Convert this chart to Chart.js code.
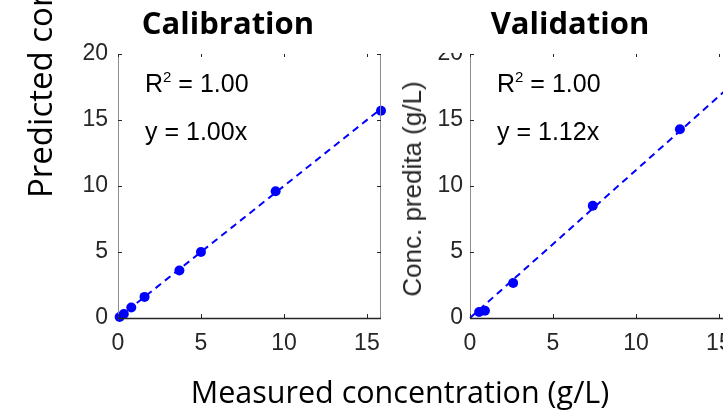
<!DOCTYPE html>
<html>
<head>
<meta charset="utf-8">
<script src="https://cdn.jsdelivr.net/npm/chart.js@4.4.0/dist/chart.umd.min.js"></script>
<style>
    html, body { margin: 0; padding: 0; background: #fff; overflow: hidden; }
    #figura { position: relative; width: 723px; height: 415px; overflow: hidden; background: #fff; }
    canvas { position: absolute; left: 0; top: 0; }
    .txt { position: absolute; white-space: nowrap; line-height: 1; color: #000; }
    .titulo { font-family: 'Open Sans', sans-serif; font-weight: bold; font-size: 31px; transform: translateX(-50%); }
    .rotulo { font-family: 'Open Sans', sans-serif; font-size: 30.5px; }
    .anot { font-family: 'Liberation Sans', Arial, sans-serif; font-size: 25px; }
    .anot span { font-size: 15px; position: relative; top: -10px; }
    .rotuloY { font-family: 'Liberation Sans', Arial, sans-serif; font-size: 26px; color: #262626;
               transform-origin: left top; transform: rotate(-90deg) translateX(-50%); }
</style>
</head>
<body>
<div id="figura">
    <canvas id="calChart" width="723" height="415"></canvas>
    <canvas id="valChart" width="800" height="415"></canvas>

    <div class="txt titulo" style="left:228px; top:7px">Calibration</div>
    <div class="txt titulo" style="left:570px; top:7px">Validation</div>
    <div class="txt rotulo" style="left:400px; top:376px; transform: translateX(-50%)">Measured concentration (g/L)</div>
    <div class="txt rotulo" style="left:23px; top:198px; font-size:33px; transform-origin: left top; transform: rotate(-90deg)">Predicted concentration (g/L)</div>
    <div class="txt rotuloY" style="left:399px; top:189px">Conc. predita (g/L)</div>

    <div class="txt anot" id="calR2" style="left:145px; top:71px"></div>
    <div class="txt anot" id="calEq" style="left:145px; top:119px"></div>
    <div class="txt anot" id="valR2" style="left:497px; top:71px"></div>
    <div class="txt anot" id="valEq" style="left:497px; top:119px"></div>
</div>

<script>
// dados
const calMedido = [0.1, 0.35, 0.8, 1.6, 3.7, 5.0, 9.5, 15.85]
const calPredito = [0.08, 0.3, 0.8, 1.6, 3.6, 5.0, 9.6, 15.7]
const valMedido = [0.55, 0.9, 2.6, 7.4, 12.65]
const valPredito = [0.45, 0.55, 2.65, 8.5, 14.3]

const inclinacoes = [1.00, 1.12]
const r2 = [1.00, 1.00]

const xMax = 15.85
const yMax = 20
const passoTick = 5

const fonteTick = { family: "'Liberation Sans', Arial, sans-serif", size: 23 }

// caixa estilo matlab: eixos + ticks para dentro
const caixaPlugin = {
    id: 'caixa',
    afterDraw(chart, args, opts) {
        const ctx = chart.ctx
        const a = chart.chartArea
        const x = chart.scales.x
        const y = chart.scales.y
        ctx.save()

        if (opts.tapaTopo) {
            ctx.fillStyle = '#fff'
            ctx.fillRect(a.left - 48, 0, 46, a.top - 1)
        }

        ctx.lineWidth = 1
        ctx.strokeStyle = '#8c8c8c'
        ctx.beginPath()
        ctx.moveTo(a.left + 0.5, a.top)
        ctx.lineTo(a.left + 0.5, a.bottom)
        ctx.moveTo(a.right - 0.5, a.top)
        ctx.lineTo(a.right - 0.5, a.bottom)
        ctx.stroke()

        ctx.strokeStyle = '#262626'
        ctx.lineWidth = 1.5
        ctx.beginPath()
        ctx.moveTo(a.left, a.bottom + 0.5)
        ctx.lineTo(a.right, a.bottom + 0.5)
        ctx.stroke()

        ctx.lineWidth = 1
        ctx.beginPath()
        x.ticks.forEach(t => {
            const px = Math.round(x.getPixelForValue(t.value)) + 0.5
            ctx.moveTo(px, a.bottom)
            ctx.lineTo(px, a.bottom - 4)
            ctx.moveTo(px, a.top)
            ctx.lineTo(px, a.top + 3)
        })
        y.ticks.forEach(t => {
            const py = Math.round(y.getPixelForValue(t.value)) + 0.5
            ctx.moveTo(a.left, py)
            ctx.lineTo(a.left + 4, py)
            ctx.moveTo(a.right, py)
            ctx.lineTo(a.right - 4, py)
        })
        ctx.stroke()
        ctx.restore()
    }
}

function criarGrafico(canvas, medido, predito, inclinacao, padEsq, padDir, padTickY, tapaTopo) {
    return new Chart(canvas, {
        type: 'scatter',
        data: {
            datasets: [{
                data: medido.map((m, i) => ({ x: m, y: predito[i] })),
                backgroundColor: '#0000ff',
                borderWidth: 0,
                pointRadius: 5,
                pointHoverRadius: 5,
                clip: false
            }, {
                data: [{ x: 0, y: 0 }, { x: xMax, y: inclinacao * xMax }],
                showLine: true,
                borderColor: '#0000ff',
                borderWidth: 2,
                borderDash: [7, 5],
                pointRadius: 0,
                clip: false
            }]
        },
        options: {
            responsive: false,
            animation: false,
            devicePixelRatio: 1,
            layout: { padding: { left: padEsq, right: padDir, top: 54, bottom: 57 } },
            plugins: {
                legend: { display: false },
                tooltip: { enabled: false },
                caixa: { tapaTopo: tapaTopo }
            },
            scales: {
                x: {
                    type: 'linear',
                    min: 0,
                    max: xMax,
                    grid: { display: false, drawTicks: false },
                    border: { display: false },
                    ticks: { stepSize: passoTick, includeBounds: false, padding: 12, color: '#262626', font: fonteTick, maxRotation: 0 },
                    afterFit: s => { s.height = 40 }
                },
                y: {
                    type: 'linear',
                    min: 0,
                    max: yMax,
                    grid: { display: false, drawTicks: false },
                    border: { display: false },
                    ticks: { stepSize: passoTick, padding: padTickY, color: '#262626', font: fonteTick },
                    afterFit: s => { s.width = 40 }
                }
            }
        },
        plugins: [caixaPlugin]
    })
}

document.addEventListener('DOMContentLoaded', () => {
    criarGrafico(document.getElementById('calChart'), calMedido, calPredito, inclinacoes[0], 78, 342, 10, false)
    criarGrafico(document.getElementById('valChart'), valMedido, valPredito, inclinacoes[1], 430, 67, 7, true)

    document.getElementById('calR2').innerHTML = `R<span>2</span> = ${r2[0].toFixed(2)}`
    document.getElementById('calEq').innerHTML = `y = ${inclinacoes[0].toFixed(2)}x`
    document.getElementById('valR2').innerHTML = `R<span>2</span> = ${r2[1].toFixed(2)}`
    document.getElementById('valEq').innerHTML = `y = ${inclinacoes[1].toFixed(2)}x`
})
</script>
</body>
</html>
